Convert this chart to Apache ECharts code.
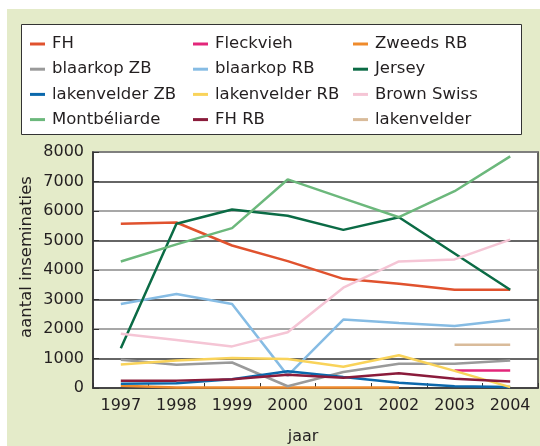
<!DOCTYPE html>
<html>
<head>
<meta charset="utf-8">
<script src="https://cdn.jsdelivr.net/npm/echarts@6/dist/echarts.min.js"></script>
<style>
html,body{margin:0;padding:0;background:#fff;}
#c{width:540px;height:446px;}
</style>
</head>
<body>
<div id="c"></div>
<script>
const years = ['1997','1998','1999','2000','2001','2002','2003','2004'];
const yTicks = [0,1000,2000,3000,4000,5000,6000,7000,8000];

const FH            = [5570,5610,4830,4300,3700,3530,3330,3330];
const Fleckvieh     = [null,null,null,null,null,null,590,590];
const ZweedsRB      = [80,20,20,20,20,20,null,null];
const blaarkopZB    = [955,790,865,60,540,820,820,930];
const blaarkopRB    = [2850,3190,2850,420,2320,2200,2100,2310];
const Jersey        = [1350,5570,6050,5840,5360,5790,4560,3330];
const lakenvelderZB = [140,160,300,570,370,175,60,30];
const lakenvelderRB = [800,930,1020,980,720,1110,580,30];
const BrownSwiss    = [1840,1630,1410,1890,3400,4290,4360,5030];
const Montbeliarde  = [4290,4870,5420,7070,6430,5790,6670,7850];
const FHRB          = [250,250,300,450,345,500,310,220];
const lakenvelder   = [null,null,null,null,null,null,1470,1470];

const names = ['FH','Fleckvieh','Zweeds RB','blaarkop ZB','blaarkop RB','Jersey',
  'lakenvelder ZB','lakenvelder RB','Brown Swiss','Montbéliarde','FH RB','lakenvelder'];
const dataSets = [FH,Fleckvieh,ZweedsRB,blaarkopZB,blaarkopRB,Jersey,
  lakenvelderZB,lakenvelderRB,BrownSwiss,Montbeliarde,FHRB,lakenvelder];
const colors = ['#e0522e','#e3267a','#ef8b2c','#9a9a9a','#86bce4','#0b6b45',
  '#0b68ac','#f9d35a','#f5c5d5','#6cb87c','#8a1b3b','#d9bb9a'];

const FONT = 'DejaVu Sans';
const TXT = '#231f20';

const series = names.map((n,i)=>({
  name:n, type:'line', data:dataSets[i], symbol:'none', showSymbol:false,
  lineStyle:{width:2.5,color:colors[i]}, itemStyle:{color:colors[i]},
  connectNulls:false, animation:false
}));

function legendCol(idx,left){
  return {
    data: idx.map(i=>names[i]),
    orient:'vertical', left:left, top:34, padding:0,
    itemWidth:15, itemHeight:3, itemGap:5.2, icon:'rect',
    textStyle:{fontFamily:FONT,fontSize:16.5,color:TXT,lineHeight:20,padding:[0,0,0,2]},
    selectedMode:false
  };
}

const chart = echarts.init(document.getElementById('c'),null,{renderer:'canvas'});
chart.setOption({
  animation:false,
  color:colors,
  graphic:[
    {type:'rect',z:-10,shape:{x:7,y:9,width:533,height:437},style:{fill:'#e4ebc9'}},
    {type:'rect',z:-9,shape:{x:21.5,y:24.5,width:500,height:110},style:{fill:'#fff',stroke:'#333',lineWidth:1}},
    {type:'text',z:5,x:303,y:437,style:{text:'jaar',fontFamily:FONT,fontSize:16,fill:TXT,align:'center',verticalAlign:'middle'}},
    {type:'text',z:5,x:27,y:257,rotation:Math.PI/2,style:{text:'aantal inseminaties',fontFamily:FONT,fontSize:16.5,fill:TXT,align:'center',verticalAlign:'middle'}}
  ],
  legend:[legendCol([0,3,6,9],30), legendCol([1,4,7,10],193), legendCol([2,5,8,11],353)],
  grid:{left:93,top:152,width:445,height:236,show:true,backgroundColor:'#fff',borderColor:'#333',borderWidth:1.5,containLabel:false},
  xAxis:{
    type:'category', data:years, boundaryGap:true,
    axisLine:{lineStyle:{color:'#333',width:1.5}},
    axisTick:{show:true,inside:true,length:5,alignWithLabel:false,lineStyle:{color:'#333'}},
    axisLabel:{fontFamily:FONT,fontSize:16,color:TXT,margin:10},
    splitLine:{show:false}
  },
  yAxis:{
    type:'value', min:0, max:8000, interval:1000,
    axisLine:{show:true,lineStyle:{color:'#333',width:1.5}},
    axisTick:{show:true,inside:true,length:6,lineStyle:{color:'#333'}},
    axisLabel:{fontFamily:FONT,fontSize:16,color:TXT,margin:9,
      formatter:v=>yTicks.includes(v)?String(v):''},
    splitLine:{show:true,lineStyle:{color:['#8a8a8a','#333'],width:1.5}}
  },
  series:series
});
</script>
</body>
</html>
